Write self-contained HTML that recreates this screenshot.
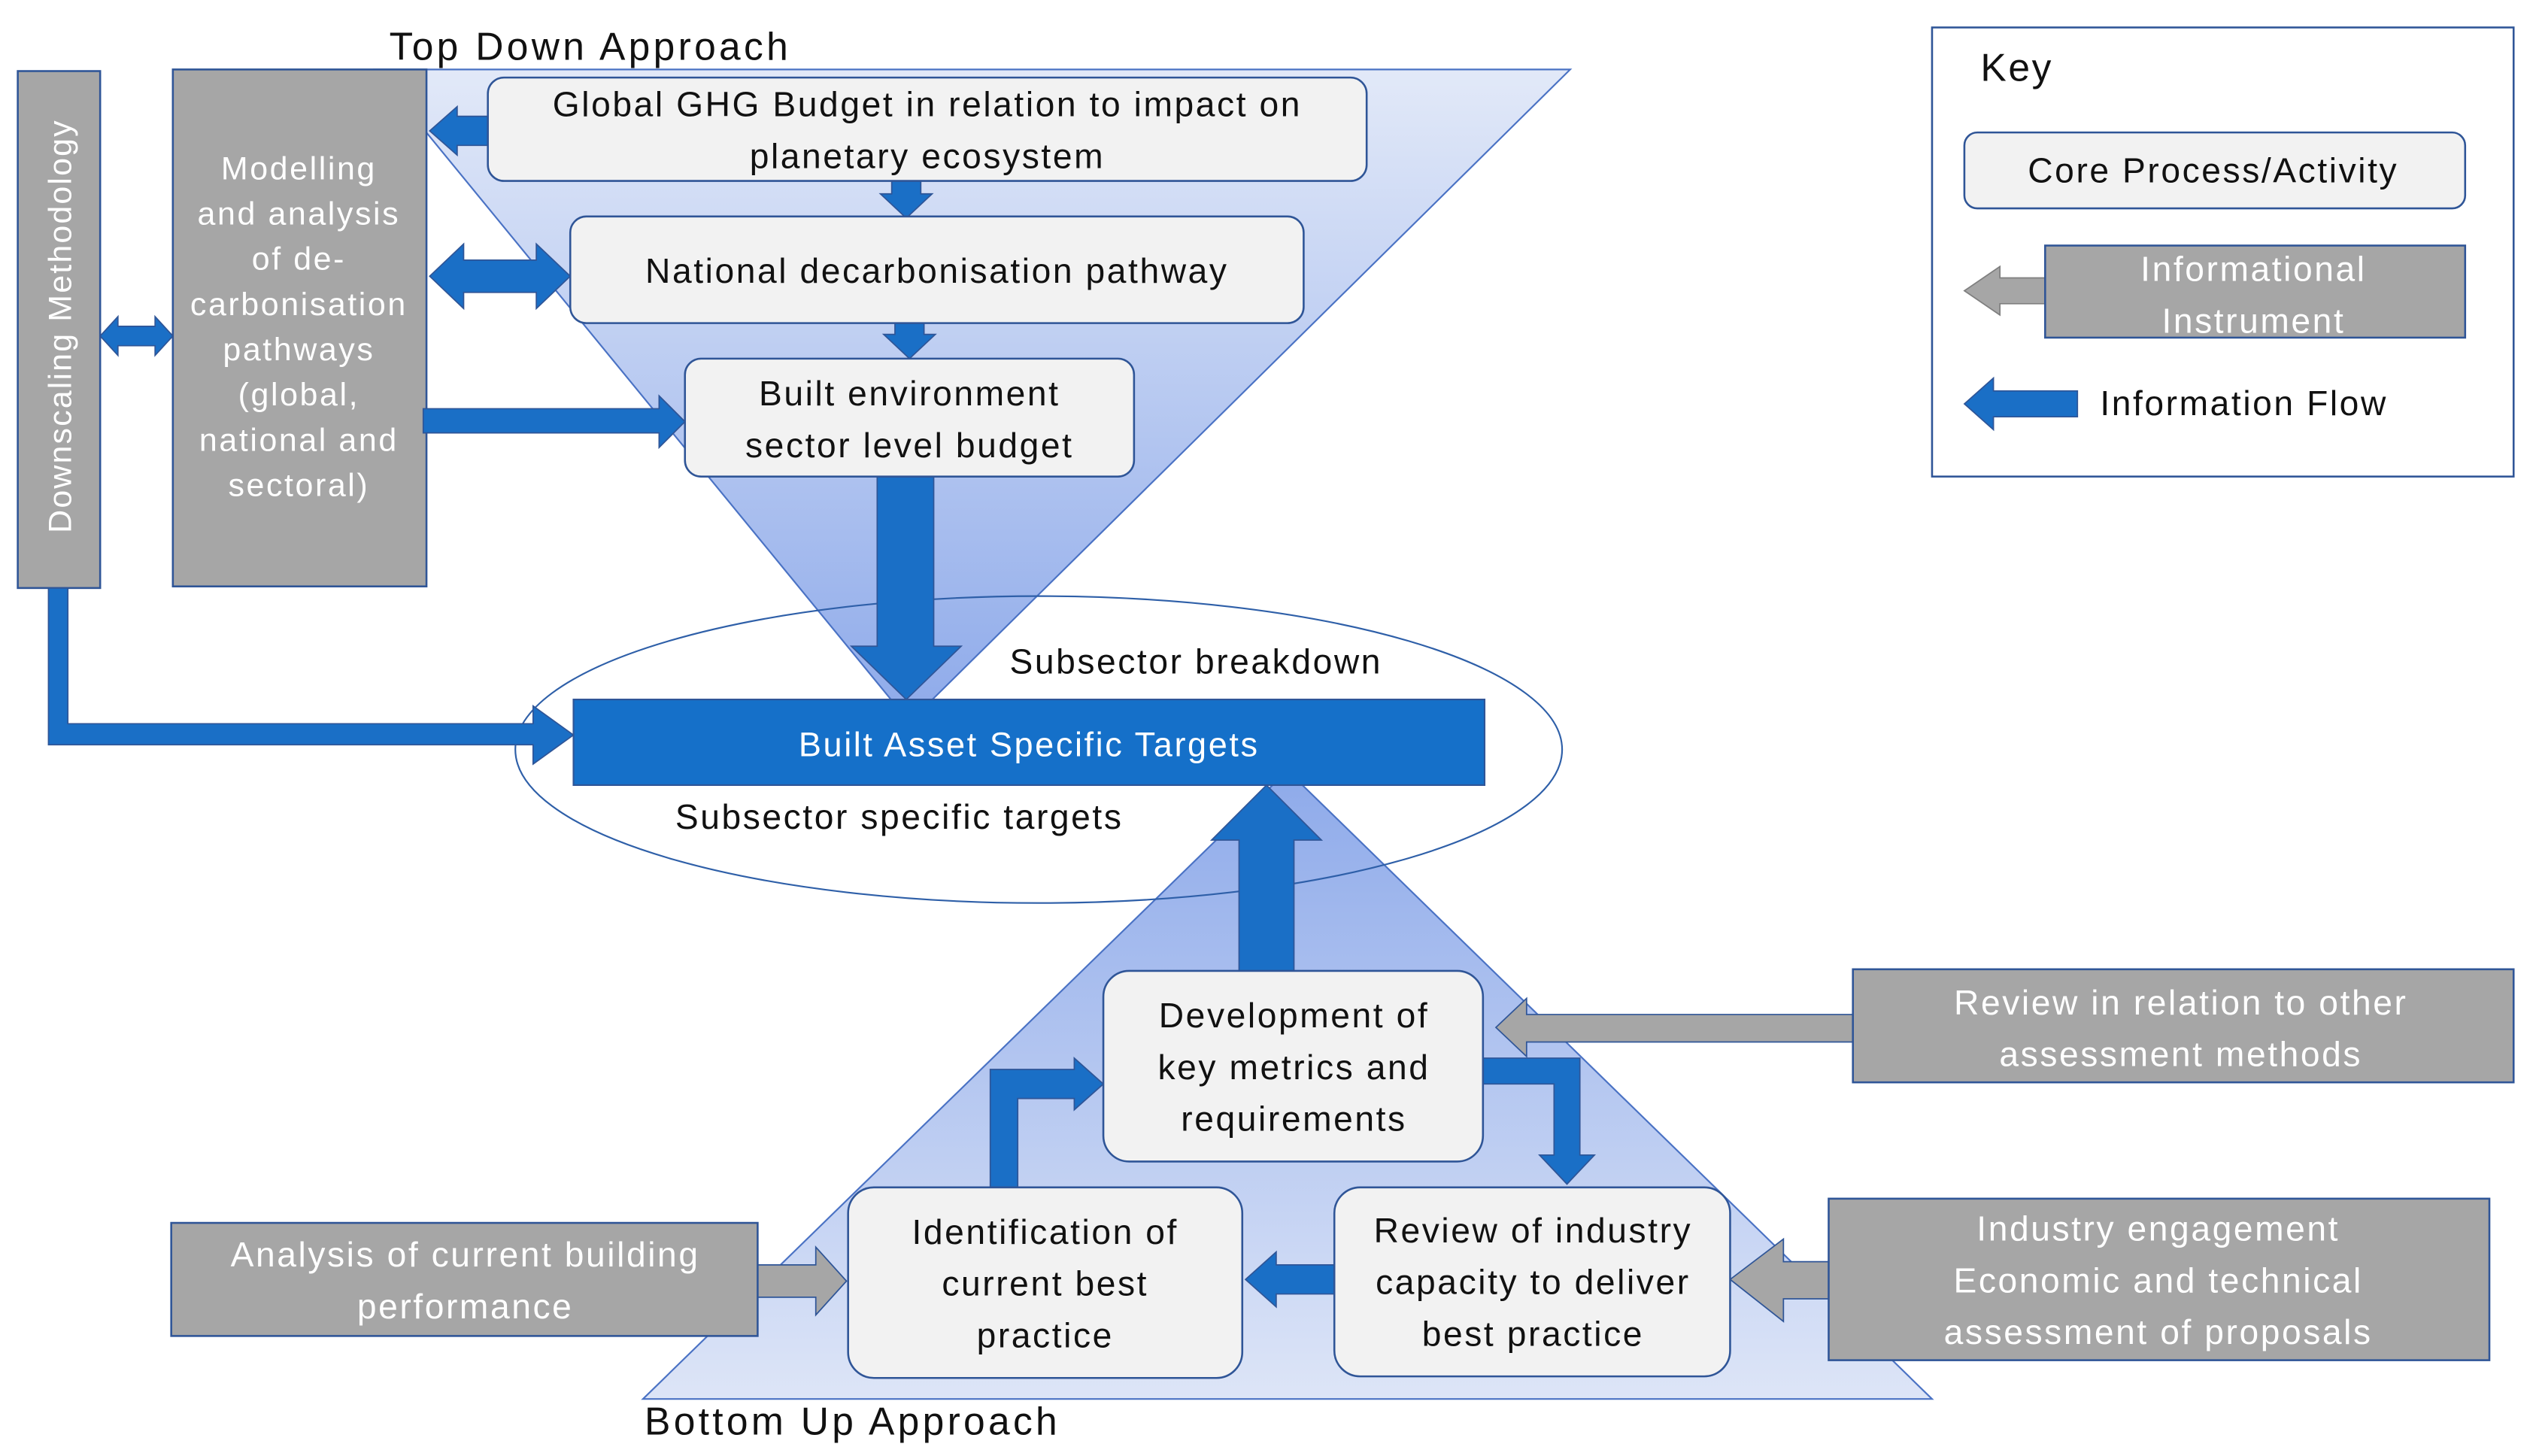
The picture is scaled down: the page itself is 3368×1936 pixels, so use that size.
<!DOCTYPE html>
<html><head><meta charset="utf-8"><style>
html,body{margin:0;padding:0;background:#fff}
svg{display:block}
text{font-family:"Liberation Sans",sans-serif;letter-spacing:1.2px}
</style></head><body>
<svg width="3368" height="1936" viewBox="0 0 1568 901.3" preserveAspectRatio="none" xmlns="http://www.w3.org/2000/svg">
<defs>
<linearGradient id="gt" x1="0" y1="0" x2="0" y2="1"><stop offset="0" stop-color="#e2e9f8"/><stop offset="1" stop-color="#8eaaea"/></linearGradient>
<linearGradient id="gb" x1="0" y1="0" x2="0" y2="1"><stop offset="0" stop-color="#8eaaea"/><stop offset="1" stop-color="#dde5f7"/></linearGradient>
</defs>
<rect width="1568" height="901.3" fill="#fff"/>
<polygon points="232,43 972,43 563,447" fill="url(#gt)" stroke="#4a72c4" stroke-width="1"/>
<polygon points="398,866 1196,866 797,477" fill="url(#gb)" stroke="#4a72c4" stroke-width="1"/>
<ellipse cx="643" cy="464" rx="324" ry="95" fill="none" stroke="#2e5fa8" stroke-width="1"/>
<rect x="11" y="44" width="51" height="320" fill="#a6a6a6" stroke="#2f5597" stroke-width="1.2"/>
<text transform="translate(44,330) rotate(-90)" font-size="20" fill="#fff" style="letter-spacing:1px">Downscaling Methodology</text>
<rect x="107" y="43" width="157" height="320" fill="#a6a6a6" stroke="#2f5597" stroke-width="1.2"/>
<g font-size="20" fill="#fff" text-anchor="middle" style="letter-spacing:0.3px">
<text x="185" y="111">Modelling</text><text x="185" y="139">and analysis</text><text x="185" y="167">of de-</text><text x="185" y="195">carbonisation</text><text x="185" y="223">pathways</text><text x="185" y="251">(global,</text><text x="185" y="279">national and</text><text x="185" y="307">sectoral)</text>
</g>
<g fill="#1a6fc6" stroke="#2f5597" stroke-width="0.8">
<polygon points="266,81 283,66 283,72 302,72 302,90 283,90 283,96"/>
<polygon points="552,112 570,112 570,120 577,120 561,135 545,120 552,120"/>
<polygon points="554,200 572,200 572,207 579,207 563,222 547,207 554,207"/>
<polygon points="266,171 287,151 287,161 332,161 332,151 353,171 332,191 332,181 287,181 287,191"/>
<polygon points="62,208 73,196 73,202 96,202 96,196 107,208 96,220 96,214 73,214 73,220"/>
<polygon points="262,253 408,253 408,245 424,261 408,277 408,268 262,268"/>
<polygon points="543,295 578,295 578,400 595,400 561,433 527,400 543,400"/>
<polygon points="30,364 42,364 42,448 330,448 330,437 355,455 330,473 330,461 30,461"/>
<polygon points="767,603 801,603 801,520 818,520 784,486 750,520 767,520"/>
<polygon points="613,735 613,662 665,662 665,655 683,671 665,687 665,680 630,680 630,735"/>
<polygon points="918,655 978,655 978,715 987,715 970,733 953,715 962,715 962,671 918,671"/>
<polygon points="771,792 790,775 790,783 826,783 826,801 790,801 790,809"/>
</g>
<rect x="355" y="433" width="564" height="53" fill="#1570c9" stroke="#2f5597"/>
<text x="637" y="468" font-size="21" fill="#fff" text-anchor="middle">Built Asset Specific Targets</text>
<g fill="#a6a6a6" stroke="#2f5597" stroke-width="0.8">
<polygon points="469,783 505,783 505,772 524,793 505,814 505,803 469,803"/>
<polygon points="1147,628 945,628 945,618 926,636 945,654 945,645 1147,645"/>
<polygon points="1132,781 1104,781 1104,767 1071,792 1104,818 1104,804 1132,804"/>
</g>
<g fill="#f2f2f2" stroke="#2f5597" stroke-width="1.2">
<rect x="302" y="48" width="544" height="64" rx="10"/>
<rect x="353" y="134" width="454" height="66" rx="10"/>
<rect x="424" y="222" width="278" height="73" rx="10"/>
<rect x="683" y="601" width="235" height="118" rx="16"/>
<rect x="525" y="735" width="244" height="118" rx="16"/>
<rect x="826" y="735" width="245" height="117" rx="16"/>
</g>
<g font-size="21.5" fill="#111" text-anchor="middle">
<text x="574" y="72">Global GHG Budget in relation to impact on</text>
<text x="574" y="104">planetary ecosystem</text>
<text x="580" y="175">National decarbonisation  pathway</text>
<text x="563" y="251">Built environment</text>
<text x="563" y="283">sector  level budget</text>
<text x="801" y="636">Development  of</text>
<text x="801" y="668">key metrics and</text>
<text x="801" y="700">requirements</text>
<text x="647" y="770">Identification of</text>
<text x="647" y="802">current best</text>
<text x="647" y="834">practice</text>
<text x="949" y="769">Review of industry</text>
<text x="949" y="801">capacity to deliver</text>
<text x="949" y="833">best practice</text>
</g>
<g fill="#a6a6a6" stroke="#2f5597" stroke-width="1.2">
<rect x="106" y="757" width="363" height="70"/>
<rect x="1147" y="600" width="409" height="70"/>
<rect x="1132" y="742" width="409" height="100"/>
</g>
<g font-size="21.5" fill="#fff" text-anchor="middle">
<text x="288" y="784">Analysis of current building</text>
<text x="288" y="816">performance</text>
<text x="1350" y="628">Review  in relation to other</text>
<text x="1350" y="660">assessment  methods</text>
<text x="1336" y="768">Industry engagement</text>
<text x="1336" y="800">Economic and technical</text>
<text x="1336" y="832">assessment  of proposals</text>
</g>
<g font-size="21.5" fill="#111">
<text x="625" y="417">Subsector breakdown</text>
<text x="418" y="513">Subsector specific targets</text>
</g>
<text x="241" y="37" font-size="24" fill="#111" style="letter-spacing:2px">Top Down Approach</text>
<text x="399" y="888" font-size="24" fill="#111" style="letter-spacing:2px">Bottom Up Approach</text>
<rect x="1196" y="17" width="360" height="278" fill="#fff" stroke="#2f5597" stroke-width="1.2"/>
<text x="1226" y="50" font-size="24" fill="#111">Key</text>
<rect x="1216" y="82" width="310" height="47" rx="8" fill="#f2f2f2" stroke="#2f5597" stroke-width="1.2"/>
<text x="1370" y="113" font-size="21.5" fill="#111" text-anchor="middle">Core Process/Activity</text>
<polygon points="1216,180 1238,165 1238,172 1266,172 1266,188 1238,188 1238,195" fill="#a6a6a6" stroke="#7f7f7f" stroke-width="0.8"/>
<rect x="1266" y="152" width="260" height="57" fill="#a6a6a6" stroke="#2f5597" stroke-width="1.2"/>
<text x="1395" y="174" font-size="21.5" fill="#fff" text-anchor="middle">Informational</text>
<text x="1395" y="206" font-size="21.5" fill="#fff" text-anchor="middle">Instrument</text>
<polygon points="1216,250 1234,234 1234,242 1286,242 1286,258 1234,258 1234,266" fill="#1a6fc6" stroke="#2f5597" stroke-width="0.8"/>
<text x="1300" y="257" font-size="21.5" fill="#111">Information  Flow</text>
</svg>
</body></html>
